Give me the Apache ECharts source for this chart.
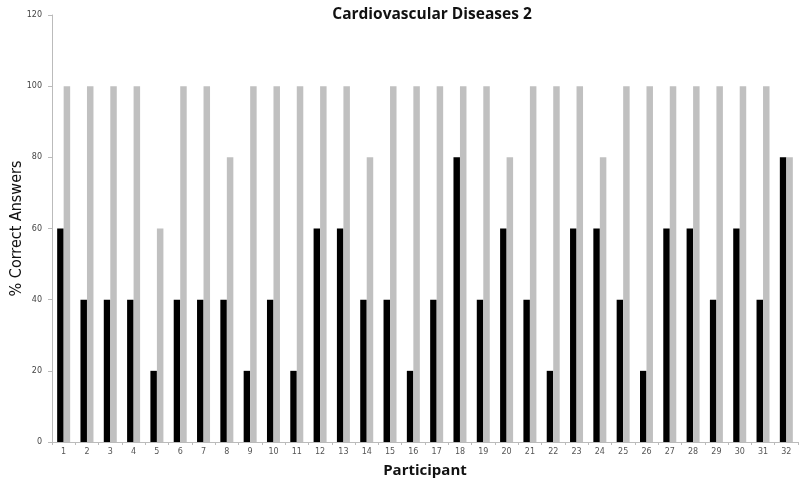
<!DOCTYPE html>
<html lang="en">
<head>
   <meta charset="UTF-8">
   <script type="text/javascript" src="https://cdnjs.cloudflare.com/ajax/libs/echarts/6.0.0/echarts.min.js"></script>
   <title>Cardiovascular Diseases 2</title>
</head>
<body style="margin:0">
   <div id="container" style="width: 800px; height: 479px"></div>
   <script>
      var participants = ['1', '2', '3', '4', '5', '6', '7', '8', '9', '10', '11', '12', '13', '14', '15', '16',
         '17', '18', '19', '20', '21', '22', '23', '24', '25', '26', '27', '28', '29', '30', '31', '32'];
      var preScores = [60, 40, 40, 40, 20, 40, 40, 40, 20, 40, 20, 60, 60, 40, 40, 20,
         40, 80, 40, 60, 40, 20, 60, 60, 40, 20, 60, 60, 40, 60, 40, 80];
      var postScores = [100, 100, 100, 100, 60, 100, 100, 80, 100, 100, 100, 100, 100, 80, 100, 100,
         100, 100, 100, 80, 100, 100, 100, 80, 100, 100, 100, 100, 100, 100, 100, 80];

      var myChart = echarts.init(document.getElementById('container'));

      var option = {
         animation: false,
         title: {
            text: 'Cardiovascular Diseases 2',
            left: 427,
            textAlign: 'center',
            top: 2,
            textStyle: { fontFamily: 'Open Sans', fontWeight: 'bold', fontSize: 15.5, color: '#111' }
         },
         grid: { left: 52, right: 2, top: 15, bottom: 37, containLabel: false, outerBoundsMode: 'none' },
         xAxis: {
            type: 'category',
            data: participants,
            name: 'Participant',
            nameLocation: 'middle',
            nameGap: 21,
            nameMoveOverlap: false,
            nameTextStyle: { fontFamily: 'Open Sans', fontWeight: 'bold', fontSize: 15, color: '#111' },
            axisLine: { lineStyle: { color: '#bbb' } },
            axisTick: { show: true, length: 3, lineStyle: { color: '#bbb' } },
            axisLabel: { fontSize: 8, color: '#555', margin: 6, fontFamily: 'DejaVu Sans' }
         },
         yAxis: {
            type: 'value',
            min: 0,
            max: 120,
            interval: 20,
            name: '% Correct Answers',
            nameLocation: 'middle',
            nameGap: 27,
            nameMoveOverlap: false,
            nameTextStyle: { fontFamily: 'DejaVu Sans Condensed', fontSize: 16, color: '#111' },
            axisLine: { show: true, lineStyle: { color: '#bbb' } },
            axisTick: { show: true, length: 4, lineStyle: { color: '#bbb' } },
            splitLine: { show: false },
            axisLabel: { fontSize: 8, color: '#444', margin: 10, fontFamily: 'DejaVu Sans' }
         },
         series: [
            {
               name: 'Pre',
               type: 'bar',
               data: preScores,
               barWidth: 6.5,
               barGap: '0%',
               itemStyle: { color: '#000' }
            },
            {
               name: 'Post',
               type: 'bar',
               data: postScores,
               barWidth: 6.5,
               itemStyle: { color: '#c0c0c0' }
            }
         ]
      };

      myChart.setOption(option);
   </script>
</body>
</html>
